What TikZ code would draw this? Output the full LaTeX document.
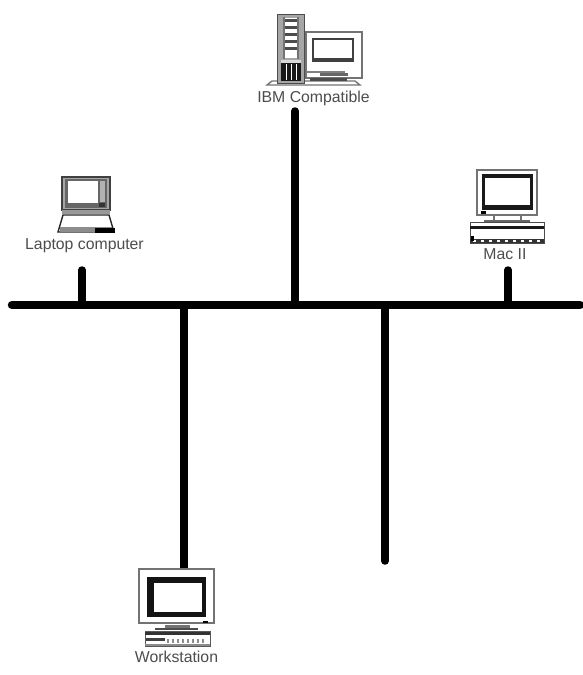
\documentclass[tikz,border=0pt]{standalone}
\usepackage{fontspec}
\setmainfont{Liberation Sans}
\definecolor{txt}{gray}{0.3}
\tikzset{
  wire/.style={line width=7.5pt,line cap=round,black},
  lbl/.style={text=txt,font=\fontsize{15.8pt}{16pt}\selectfont,inner sep=0pt,anchor=center},
  ol/.style={draw=black!75,line width=1pt,fill=white},
  grayol/.style={draw=black!55,line width=1.4pt,fill=white}
}
\begin{document}
\begin{tikzpicture}[x=1pt,y=-1pt]
\useasboundingbox (0,0) rectangle (583,675);
% bus and stubs
\coordinate (busL) at (12,305);
\coordinate (busR) at (580,305);
\coordinate (tapLaptop) at (82,305);
\coordinate (tapIBM) at (295,305);
\coordinate (tapMac) at (508,305);
\coordinate (tapWork) at (184,305);
\coordinate (tapFree) at (385,305);
\coordinate (endLaptop) at (82,270);
\coordinate (endIBM) at (295,111);
\coordinate (endMac) at (508,270);
\coordinate (endWork) at (184,568);
\coordinate (endFree) at (385,561);
\draw[wire,line width=8.5pt] (busL) -- (busR);
\draw[wire] (tapLaptop) -- (endLaptop);
\draw[wire] (tapIBM) -- (endIBM);
\draw[wire] (tapMac) -- (endMac);
\draw[wire] (tapWork) -- (endWork);
\draw[wire] (tapFree) -- (endFree);

% IBM compatible
\draw[grayol] (267,85) -- (272,81) -- (355,81) -- (360,85) -- cycle;
\draw[fill=black!35,draw=black!70,line width=1pt] (277,14) rectangle (304,83);
\fill[white] (284,18) rectangle (298,58);
\fill[black!55] (283,17) rectangle (285,59);
\fill[black!55] (297,17) rectangle (299,59);
\foreach \y in {19,26,33,40,47}{\fill[black!70] (285,\y) rectangle (297,\y+3);}
\fill[black!15] (281,60) rectangle (301,63);
\fill[black!90] (281,63) rectangle (301,81);
\foreach \x in {286,291,296}{\fill[white] (\x,64) rectangle (\x+1,80);}
\draw[grayol] (306,32) rectangle (362,78);
\draw[fill=black!75,draw=none] (312,38) rectangle (354,62);
\fill[white] (314,40) rectangle (352,58);
\fill[black!50] (306,71) rectangle (345,73);
\fill[black!60] (320,73) rectangle (348,76);
\fill[black!70] (310,78) rectangle (347,81);
\node[lbl] (ibmLabel) at (313.5,98) {IBM Compatible};

% Laptop
\draw[draw=black!75,line width=1.6pt,fill=black!35] (62,177) rectangle (110,210);
\fill[black!60] (65,179) rectangle (107,208);
\fill[white] (68,181) rectangle (98,203);
\fill[black!30] (100,181) rectangle (105,202);
\fill[black!80] (99,203) rectangle (105,207);
\fill[black!40] (62,210) rectangle (110,214);
\draw[draw=black!85,line width=1.4pt,fill=white] (63,215) -- (109,215) -- (114,232) -- (58,232) -- cycle;
\fill[black!45] (60,227) rectangle (112,232);
\fill[black] (95,228) rectangle (115,233);
\node[lbl] (laptopLabel) at (84.5,246) {Laptop computer};

% Mac II
\draw[grayol] (477,170) rectangle (537,215);
\fill[black!90] (482,174) rectangle (533,210);
\fill[white] (485,178) rectangle (530,205);
\fill[black] (481,211) rectangle (486,214);
\fill[black!55] (493,215) rectangle (495,220);
\fill[black!55] (520,215) rectangle (522,220);
\fill[black!60] (484,220) rectangle (530,222);
\draw[draw=black!70,line width=1pt,fill=white] (470,222) rectangle (544,243);
\fill[black!90] (470,226) rectangle (544,229);
\fill[black!80] (470,239) rectangle (544,243);
\foreach \x in {473,481,...,539}{\fill[white] (\x,239.5) rectangle (\x+3,241.5);}
\fill[black] (471,236) rectangle (474,241);
\node[lbl] (macLabel) at (505,254) {Mac II};

% Workstation
\draw[grayol] (139,569) rectangle (214,623);
\fill[black!92] (147,577) rectangle (206,617);
\fill[white] (154,583) rectangle (202,612);
\fill[black] (203,621) rectangle (208,623);
\fill[black!55] (165,625) rectangle (190,628);
\fill[black!70] (155,628) rectangle (198,630);
\draw[draw=black!65,line width=.8pt,fill=white] (145,631) rectangle (210,646);
\fill[black!80] (145,632) rectangle (210,635);
\fill[black!75] (146,638) rectangle (165,641);
\foreach \x in {167,172,...,205}{\fill[black!45] (\x,639) rectangle (\x+2,643);}
\fill[black!45] (145,644) rectangle (210,646);
\node[lbl] (workLabel) at (176.5,657) {Workstation};
\end{tikzpicture}
\end{document}
